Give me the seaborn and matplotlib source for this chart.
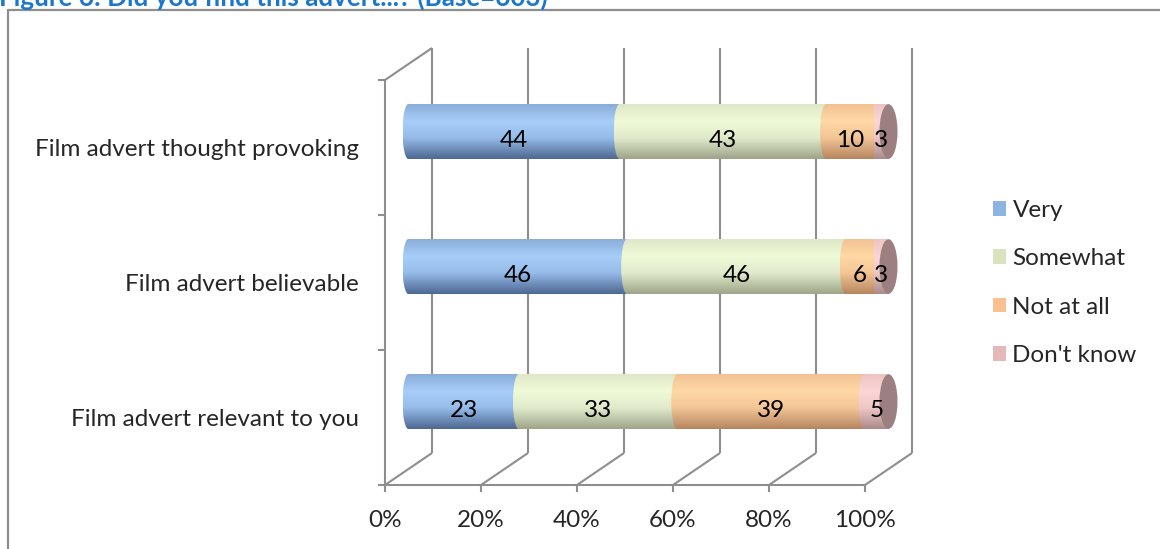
import numpy as np
import pandas as pd
import matplotlib
matplotlib.use("Agg")
import matplotlib.pyplot as plt
import seaborn as sns
from matplotlib.patches import Ellipse, Patch
from matplotlib.transforms import Affine2D, IdentityTransform
from matplotlib.lines import Line2D
from matplotlib.colors import LinearSegmentedColormap

# ---- data -------------------------------------------------------------
items = ["Film advert thought provoking", "Film advert believable", "Film advert relevant to you"]
series = ["Very", "Somewhat", "Not at all", "Don't know"]
very = [44, 46, 23]
somewhat = [43, 46, 33]
not_at_all = [10, 6, 39]
dont_know = [3, 3, 5]
pct_ticks = [0, 20, 40, 60, 80, 100]
pct_labels = ["0%", "20%", "40%", "60%", "80%", "100%"]
title = "Figure 6: Did you find this advert...? (Base=603)"

# ---- styling ----------------------------------------------------------
legend_colors = ["#8DB3E2", "#D7E4BD", "#FAC090", "#E6B9B8"]
shades = [
    ["#88AAD6", "#A7CDF9", "#96BCEA", "#4D6891"],   # Very
    ["#DDE6C6", "#EFFAD8", "#E1EBCC", "#9EA488"],   # Somewhat
    ["#F2C194", "#FFD8A4", "#F4C696", "#B68560"],   # Not at all
    ["#EBC3C3", "#FCD6D6", "#EEC7C7", "#AC8A8A"],   # Don't know
]
stops = [0.0, 0.32, 0.62, 1.0]
cap_color = "#9C7F80"
line_color = "#8E8E8E"

sns.set_theme(style="white")
plt.rcParams["font.family"] = ["Lato", "DejaVu Sans"]
FS = 17.5

W, H, DPI = 1160, 549, 100
fig = plt.figure(figsize=(W / DPI, H / DPI), dpi=DPI)
ax = fig.add_axes([385 / W, 1 - 485 / H, 480 / W, 405 / H])

# depth of the 3-D box (pixels) and offset of the cylinders (mid depth)
DEPTH = np.array([47.0, 32.0])
bar_shift = Affine2D().translate(DEPTH[0] / 2, DEPTH[1] / 2)

values = [very, somewhat, not_at_all, dont_know]
df = pd.DataFrame({"item": items})
totals = np.sum(values, axis=0)
shares = [np.array(v) / totals * 100 for v in values]
lefts = np.zeros(len(items))
for name, share in zip(series, shares):
    df[name] = share
    sns.barplot(data=df, x=name, y="item", order=items, left=lefts.copy(),
                width=0.41, color="white", ax=ax, orient="y")
    lefts = lefts + share

ax.set_xlim(0, 100)
ax.set_ylim(2.5, -0.5)
ax.set_autoscale_on(False)

bar_tr = ax.transData + bar_shift
px_per_unit = 480 / 100
left_ew = 12 / px_per_unit
cap_ew = 18 / px_per_unit

for j, cont in enumerate(ax.containers):
    cmap = LinearSegmentedColormap.from_list(f"s{j}", list(zip(stops, shades[j])))
    grad = cmap(np.linspace(0, 1, 128))[:, None, :]
    for i, patch in enumerate(cont.patches):
        x0, w = patch.get_x(), patch.get_width()
        y0, h = patch.get_y(), patch.get_height()
        yc = y0 + h / 2
        patch.set_transform(bar_tr)
        patch.set_visible(False)
        ell = Ellipse((x0, yc), width=left_ew, height=h, transform=bar_tr)
        for clip in (patch, ell):
            im = ax.imshow(grad, extent=(x0 - left_ew / 2, x0 + w, y0 + h, y0),
                           origin="upper", aspect="auto", interpolation="bilinear",
                           zorder=3 + j)
            im.set_transform(bar_tr)
            im.set_clip_path(clip)
        if j == len(ax.containers) - 1:
            ax.add_patch(Ellipse((x0 + w, yc), width=cap_ew, height=h * 0.985,
                                 transform=bar_tr, facecolor=cap_color,
                                 edgecolor="none", zorder=10, clip_on=False))
        # value label
        ax.text(x0 + w / 2, yc, f"{values[j][i]}", ha="center", va="center",
                fontsize=FS, color="black", zorder=12,
                transform=ax.transData + Affine2D().translate(DEPTH[0] / 2, DEPTH[1] / 2 - 9))

ax.set_xlim(0, 100)
ax.set_ylim(2.5, -0.5)

# ---- 3-D box: back wall gridlines, floor and left wall -----------------
def to_px(x, y):
    return np.array(ax.transData.transform((x, y)))

def add_px_line(p, q, z=1):
    ax.add_line(Line2D([p[0], q[0]], [p[1], q[1]], transform=IdentityTransform(),
                       color=line_color, lw=1.5, clip_on=False, zorder=z,
                       solid_capstyle="butt"))

for t in pct_ticks:
    pb, pt = to_px(t, 2.5), to_px(t, -0.5)
    add_px_line(pb + DEPTH, pt + DEPTH)
    add_px_line(pb, pb + DEPTH)
top_left = to_px(0, -0.5)
add_px_line(top_left, top_left + DEPTH)

# ---- axes, ticks, labels ------------------------------------------------
for s in ("top", "right"):
    ax.spines[s].set_visible(False)
for s in ("left", "bottom"):
    ax.spines[s].set_color(line_color)
    ax.spines[s].set_linewidth(1.5)
    ax.spines[s].set_zorder(1)

ax.set_xticks(pct_ticks)
ax.set_xticklabels(pct_labels)
ax.set_yticks(range(len(items)))
ax.set_yticklabels(items)
ax.set_yticks([-0.5, 0.5, 1.5, 2.5], minor=True)
ax.tick_params(axis="x", which="major", length=5, width=1.5, color=line_color,
               direction="out", bottom=True, pad=13, labelsize=FS)
ax.tick_params(axis="y", which="major", length=0, pad=19, labelsize=FS)
ax.tick_params(axis="y", which="minor", length=5, width=1.5, color=line_color,
               direction="out", left=True)
ax.set_xlabel("")
ax.set_ylabel("")
ax.grid(False)
ax.patch.set_visible(False)

handles = [Patch(facecolor=c, edgecolor="none", label=s) for c, s in zip(legend_colors, series)]
fig.legend(handles=handles, loc="center left", bbox_to_anchor=(993 / W, 1 - 283 / H),
           bbox_transform=fig.transFigure, frameon=False, fontsize=FS,
           handlelength=0.55, handleheight=0.55, handletextpad=0.25,
           labelspacing=1.12, borderpad=0, borderaxespad=0)

# ---- outer frame and title ------------------------------------------------
fig.add_artist(Line2D([8 / W, 8 / W], [0, 1 - 10 / H], transform=fig.transFigure,
                      color=line_color, lw=1.6))
fig.add_artist(Line2D([8 / W, 1], [1 - 10 / H, 1 - 10 / H], transform=fig.transFigure,
                      color=line_color, lw=1.6))
fig.text(-1 / W, 1 - 6 / H, title, ha="left", va="baseline", fontsize=18.7,
         fontweight="bold", color="#1C77CC")

fig.savefig("out.png", dpi=DPI)
